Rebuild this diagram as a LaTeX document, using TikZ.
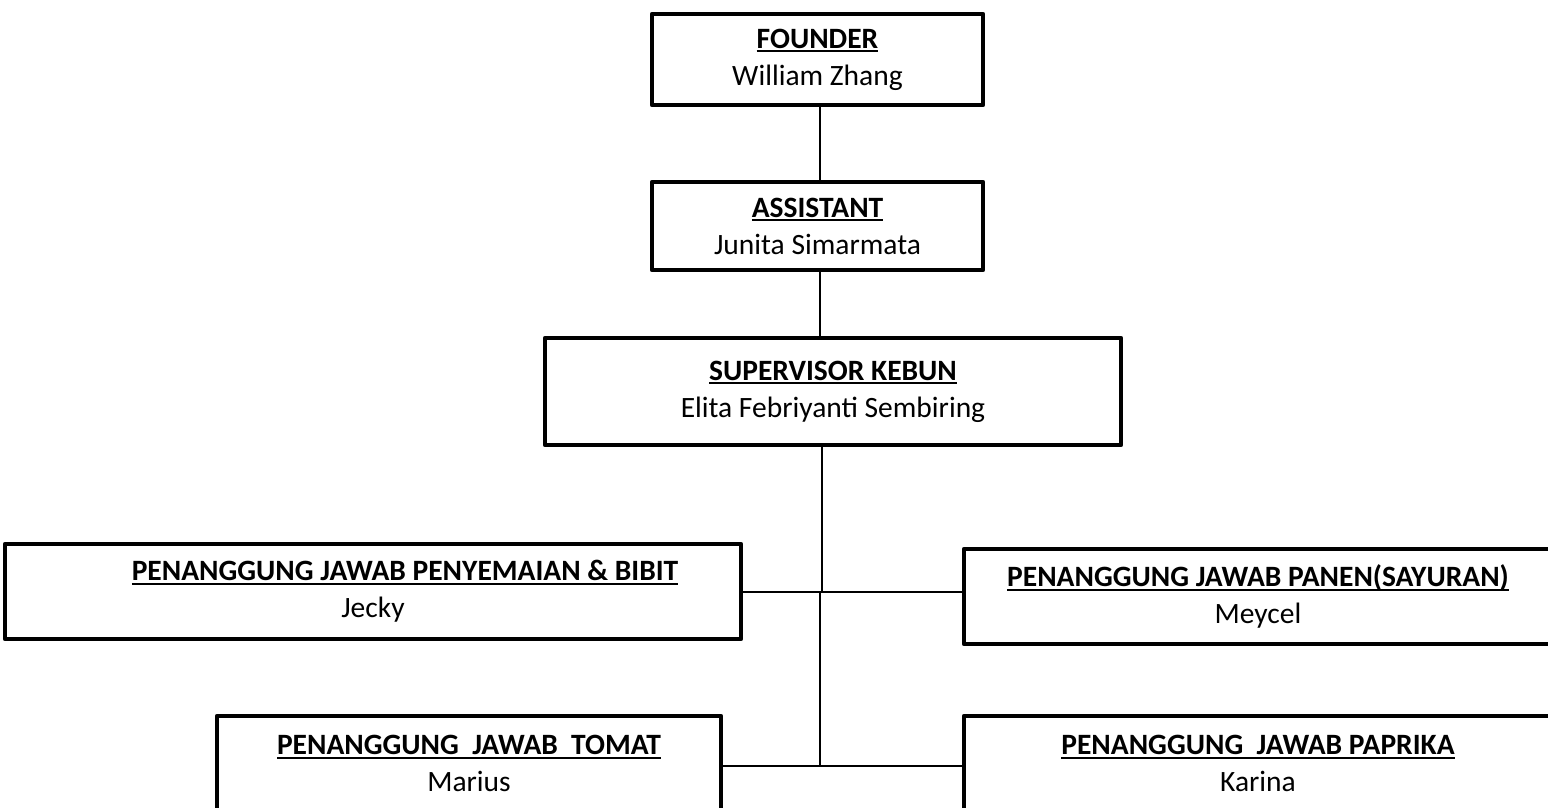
\documentclass[tikz,border=0pt]{standalone}
\usepackage{fontspec}
\setmainfont{Carlito}
\newcommand{\ttl}[1]{\textbf{\setbox0\hbox{#1}\rlap{\rule[-4pt]{\wd0}{1.7pt}}\box0}}
\begin{document}
\begin{tikzpicture}[x=1pt,y=-1pt,
  box/.style={draw, line width=4.8pt, line join=round, fill=white, inner sep=0pt,
    align=center, font=\fontsize{29.5}{37}\selectfont},
  conn/.style={line width=1.4pt}]
\useasboundingbox (0,0) rectangle (1548,807);
\begin{scope}
\clip (0,0) rectangle (1548,807);
% junction coordinates
\coordinate (jt) at (822,592);
\coordinate (jb) at (820,592);
% boxes
\node[box, minimum width=331pt, minimum height=91pt] (founder) at (817.5,59.5)
  {\ttl{FOUNDER}\\William Zhang};
\node[box, minimum width=331pt, minimum height=88pt] (assistant) at (817.5,226)
  {\ttl{ASSISTANT}\\Junita Simarmata};
\node[box, minimum width=576pt, minimum height=107pt] (supervisor) at (833,391.5)
  {\ttl{SUPERVISOR KEBUN}\\Elita Febriyanti Sembiring};
\node[box, minimum width=736pt, minimum height=95pt] (semai) at (373,591.5)
  {\hspace*{64pt}\ttl{PENANGGUNG JAWAB PENYEMAIAN \& BIBIT}\\Jecky};
\node[box, minimum width=588pt, minimum height=95pt] (panen) at (1258,596.5)
  {\ttl{PENANGGUNG JAWAB PANEN(SAYURAN)}\\Meycel};
\node[box, minimum width=504pt, minimum height=95pt] (tomat) at (469,763.5)
  {\ttl{PENANGGUNG\ \ JAWAB\ \ TOMAT}\\Marius};
\node[box, minimum width=588pt, minimum height=95pt] (paprika) at (1258,763.5)
  {\ttl{PENANGGUNG\ \ JAWAB PAPRIKA}\\Karina};
% connectors
\draw[conn] (founder.south -| jb) -- (assistant.north -| jb);
\draw[conn] (assistant.south -| jb) -- (supervisor.north -| jb);
\draw[conn] (supervisor.south -| jt) -- (jt);
\draw[conn] (semai.east |- jt) -- (panen.west |- jt);
\draw[conn] (jb) -- (jb |- 0,766);
\draw[conn] (tomat.east |- 0,766) -- (paprika.west |- 0,766);
\end{scope}
\end{tikzpicture}
\end{document}
